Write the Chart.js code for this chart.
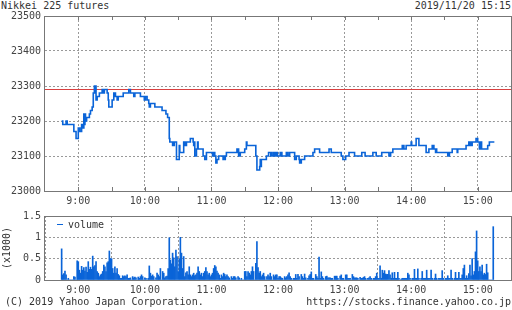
<!DOCTYPE html>
<html><head><meta charset="utf-8">
<script src="https://cdn.jsdelivr.net/npm/chart.js@4.4.0/dist/chart.umd.min.js"></script>
<style>
html,body{margin:0;padding:0;background:#fff;}
body{width:512px;height:310px;position:relative;overflow:hidden;font-family:'DejaVu Sans Mono',monospace;font-size:10px;color:#333;}
.t{position:absolute;white-space:nowrap;line-height:12px;}
canvas{position:absolute;left:0;}
</style></head><body>
<div class="t" style="left:1px;top:0px;">Nikkei 225 futures</div>
<div class="t" style="right:1px;top:0px;">2019/11/20 15:15</div>
<canvas id="c1" width="512" height="210" style="top:0"></canvas>
<canvas id="c2" width="512" height="92" style="top:205px"></canvas>
<div class="t" style="left:57px;top:219px;"><span style="display:inline-block;width:6px;height:1px;background:#0a64d8;vertical-align:middle;margin-right:5px;position:relative;top:-1px"></span>volume</div>
<div class="t" style="left:-14px;top:242px;width:42px;text-align:center;transform:rotate(-90deg);">(x1000)</div>
<div class="t" style="left:5px;top:296px;">(C) 2019 Yahoo Japan Corporation.</div>
<div class="t" style="right:1px;top:296px;">https://stocks.finance.yahoo.co.jp</div>
<script>
// ---- data ----
const xTickLabels = ['9:00','10:00','11:00','12:00','13:00','14:00','15:00'];
const priceTickValues = [23000,23100,23200,23300,23400,23500];
const volTickValues = [0,0.5,1,1.5];
const prevClose = 23290;
// minutes after 08:30
const priceMinutes = [15,16,19,20,26,28,30,30.5,31,31.5,33,33.5,34,34.5,35,35.5,36,36.5,37.5,40,41,42.5,43.5,44.5,45,45.5,46,47,49,51.5,52,52.5,53,53.5,56,57,57.5,60.5,62,62.5,63,63.5,65,66,70.5,75.5,77,80,81,86,89.5,90.5,92,93.5,94,95,99,105.5,109,110.5,112,112.5,115,115.5,116,116.5,118.5,121,121.5,125,125.5,126,126.5,127.5,131,133.5,134,134.5,135,136.5,137.5,138,142.5,144,145.5,151,151.5,152,152.5,153,154,155,156.5,160.5,161,161.5,162.5,163.5,173,173.5,174,174.5,175,175.5,176,180,181.5,182,190,191,193.5,194,194.5,195,199.5,201.5,203.5,204,204.5,206,206.5,207,207.5,208,208.5,209,209.5,212,212.5,213,213.5,217.5,218,218.5,219,220.5,225,226.5,229,229.5,230,230.5,231,234,241.5,243,247.5,256,258,267,268.5,271,274,279,285.5,288.5,295.5,298.5,303.5,310,311.5,313.5,322,322.5,323,323.5,325.5,330,330.5,334.5,337,343.5,346,349,349.5,350,350.5,352,352.5,353,363,363.5,364,364.5,367,371.5,372,379.5,382,383,383.5,384,385,388.5,390,391.5,392,392.5,393,393.5,399,400.5,405];
const priceValues = [23200,23190,23200,23190,23170,23150,23180,23170,23180,23170,23190,23180,23190,23180,23220,23190,23220,23200,23210,23220,23230,23240,23280,23300,23280,23300,23260,23270,23280,23290,23280,23290,23280,23290,23280,23260,23240,23260,23280,23270,23280,23270,23260,23270,23280,23290,23280,23270,23280,23270,23260,23270,23260,23250,23240,23250,23240,23230,23220,23210,23150,23140,23130,23140,23130,23140,23090,23130,23110,23140,23130,23140,23130,23140,23150,23140,23130,23140,23100,23120,23140,23120,23100,23090,23110,23100,23110,23100,23110,23100,23080,23090,23100,23090,23100,23090,23100,23110,23120,23110,23120,23100,23110,23100,23110,23120,23140,23130,23100,23060,23070,23090,23070,23090,23100,23110,23100,23110,23100,23110,23100,23110,23100,23110,23100,23110,23100,23110,23100,23110,23100,23110,23100,23110,23100,23110,23090,23100,23090,23080,23090,23080,23090,23100,23110,23120,23110,23120,23110,23100,23090,23100,23110,23100,23110,23100,23110,23100,23110,23100,23110,23120,23130,23120,23130,23120,23130,23140,23130,23150,23130,23110,23120,23130,23120,23130,23120,23110,23120,23110,23100,23110,23100,23110,23120,23110,23120,23130,23140,23130,23140,23130,23140,23150,23140,23120,23140,23120,23140,23120,23130,23140,23140];
const volStartMinute = 15; // 08:45, one value per minute (x1000)
const volValues = [
 .73,.12,.15,.21,.12,
 0,.04,0,0,0,0,.08,.07,0,.45,
 .43,.23,.16,.32,.23,.29,.21,.30,.18,.43,
 .25,.30,.25,.56,.31,.34,.43,.20,.16,.08,
 .12,.14,.20,.35,.31,.20,.40,.43,.68,.50,
 .50,.27,.16,.31,.16,.27,.13,.10,.04,.04,
 .10,.08,.10,.08,.12,.04,.04,.05,0,.08,
 .05,.07,.05,0,.07,.04,.08,.12,.08,0,
 .05,.04,0,.04,.33,.16,.09,.12,.08,0,
 .05,.16,.12,.08,.27,0,.20,.16,.05,.08,
 .09,.27,.99,.47,.38,.63,.52,.31,.70,.55,
 .20,.50,1.0,.63,.27,.55,.08,.17,.20,.12,
 .31,.12,.08,.12,.16,.10,.12,.16,.31,.20,
 .12,.16,.08,.16,.20,.29,.20,.12,.16,.08,
 .12,.16,.27,.34,.31,.21,.16,.12,.04,.12,
 .08,.16,.13,.08,.12,.08,.05,0,.08,.04,
 .08,.08,.05,0,.08,.05,0,.04,0,0,
 .20,.20,.08,.20,.16,.12,.20,.31,.20,0,
 .39,.90,.29,.16,.20,.08,.12,.16,.08,0,
 .08,.12,.08,.16,.08,0,.12,.08,.12,.12,
 .04,.08,.08,.05,.04,0,.08,.05,.08,.12,
 .17,.08,.04,0,.04,.04,.13,.04,.13,.08,
 0,.13,.08,.04,.14,.05,0,.04,.10,.13,
 .19,.04,.04,0,.13,.08,.04,.54,.04,.19,
 .08,.04,0,.08,.09,.05,.05,.05,.04,.04,
 0,.09,.09,.09,.04,0,.09,.12,.04,.04,
 0,.12,.12,.04,.04,.04,0,.13,.08,.05,
 .05,.05,.04,0,.06,.04,.04,.06,.08,.04,
 0,.04,.05,.08,.04,0,.04,.04,.08,.16,
 .04,.04,.33,.04,.23,.16,.22,.14,.13,.13,
 .22,.12,.04,.17,.04,.18,.04,.04,.18,.04,
 0,.02,.04,.04,.04,.04,.04,.16,.12,.04,
 0,.04,.04,.25,.04,.04,.26,.04,0,.04,
 .20,.04,.04,.04,.23,.04,.04,.04,.23,.04,
 0,.04,.14,.04,0,.04,.04,.04,.22,.04,
 0,.04,.04,.10,.04,.04,.23,.04,0,.04,
 .18,.04,.04,.18,.04,.04,.12,.27,.35,.04,
 .10,.04,.15,.35,.10,.50,.12,.20,.66,1.15,
 .45,.20,.31,.20,.35,.12,.16,.13,.37,.17,
 0,0,0,0,1.25
];

// ---- helpers ----
const BLUE = '#0a64d8';
const X_MIN = 0, X_MAX = 420; // 08:30 .. 15:30
const labelToMinute = s => { const [h,m] = s.split(':').map(Number); return h*60 + m - 510; };
const hourTicks = xTickLabels.map(labelToMinute);
const labelFor = v => { const i = hourTicks.indexOf(v); return i >= 0 ? xTickLabels[i] : ''; };

Chart.defaults.font.family = "'DejaVu Sans Mono', monospace";
Chart.defaults.font.size = 10;
Chart.defaults.color = '#444';

const framePlugin = {
  id: 'frame',
  afterDraw(chart, args, opts) {
    const {ctx, chartArea: a} = chart;
    ctx.save();
    ctx.strokeStyle = '#777';
    ctx.lineWidth = 1;
    if (opts.halfHourTicks) {
      const xs = chart.scales.x;
      ctx.beginPath();
      for (let v = 30; v < X_MAX; v += 30) {
        const px = Math.round(xs.getPixelForValue(v)) + 0.5;
        ctx.moveTo(px, a.top); ctx.lineTo(px, a.top + 4);
        ctx.moveTo(px, a.bottom); ctx.lineTo(px, a.bottom - 4);
      }
      ctx.stroke();
    }
    ctx.strokeRect(a.left - 0.5, a.top + 0.5, a.right - a.left + 1, a.bottom - a.top);
    ctx.restore();
  }
};

function xScale(h) {
  return {
    type: 'linear', min: X_MIN, max: X_MAX, offset: false,
    afterBuildTicks: s => { s.ticks = hourTicks.map(v => ({value: v})); },
    afterFit: s => { s.height = h; },
    ticks: { callback: v => labelFor(v), padding: 4, maxRotation: 0, autoSkip: false },
    grid: { color: '#999', drawTicks: false },
    border: { display: false, dash: [2, 2] }
  };
}

const pricePts = priceMinutes.map((t, i) => ({x: t, y: priceValues[i]}));
const prevPts = [{x: X_MIN, y: prevClose}, {x: X_MAX, y: prevClose}];

new Chart(document.getElementById('c1'), {
  type: 'line',
  data: { datasets: [
    { data: prevPts, borderColor: '#d84040', borderWidth: 1, pointRadius: 0, order: 2 },
    { data: pricePts, borderColor: BLUE, borderWidth: 1.6, stepped: true, pointRadius: 0, order: 1 }
  ]},
  options: {
    responsive: false, animation: false, events: [],
    layout: { padding: { top: 16, right: 1, left: 0, bottom: 0 } },
    plugins: { legend: { display: false }, tooltip: { enabled: false }, frame: { halfHourTicks: true } },
    scales: {
      x: xScale(19),
      y: {
        min: priceTickValues[0], max: priceTickValues[priceTickValues.length - 1],
        afterBuildTicks: s => { s.ticks = priceTickValues.map(v => ({value: v})); },
        afterFit: s => { s.width = 45; },
        ticks: { callback: v => String(v), padding: 4 },
        grid: { color: c => (c.index === 0 || c.index === priceTickValues.length - 1) ? 'rgba(0,0,0,0)' : '#999', drawTicks: false },
        border: { display: false, dash: [2, 2] }
      }
    }
  },
  plugins: [framePlugin]
});

const volPts = volValues.map((v, i) => ({x: volStartMinute + i, y: v}));

new Chart(document.getElementById('c2'), {
  type: 'bar',
  data: { datasets: [
    { data: volPts, backgroundColor: BLUE, borderWidth: 0, barThickness: 1 }
  ]},
  options: {
    responsive: false, animation: false, events: [],
    layout: { padding: { top: 11, right: 1, left: 0, bottom: 0 } },
    plugins: { legend: { display: false }, tooltip: { enabled: false }, frame: { halfHourTicks: false } },
    scales: {
      x: xScale(17),
      y: {
        min: 0, max: 1.5,
        afterBuildTicks: s => { s.ticks = volTickValues.map(v => ({value: v})); },
        afterFit: s => { s.width = 45; },
        ticks: { callback: v => String(v), padding: 4 },
        grid: { color: c => (c.index === 0 || c.index === volTickValues.length - 1) ? 'rgba(0,0,0,0)' : '#999', drawTicks: false },
        border: { display: false, dash: [2, 2] }
      }
    }
  },
  plugins: [framePlugin]
});
</script>
</body></html>
